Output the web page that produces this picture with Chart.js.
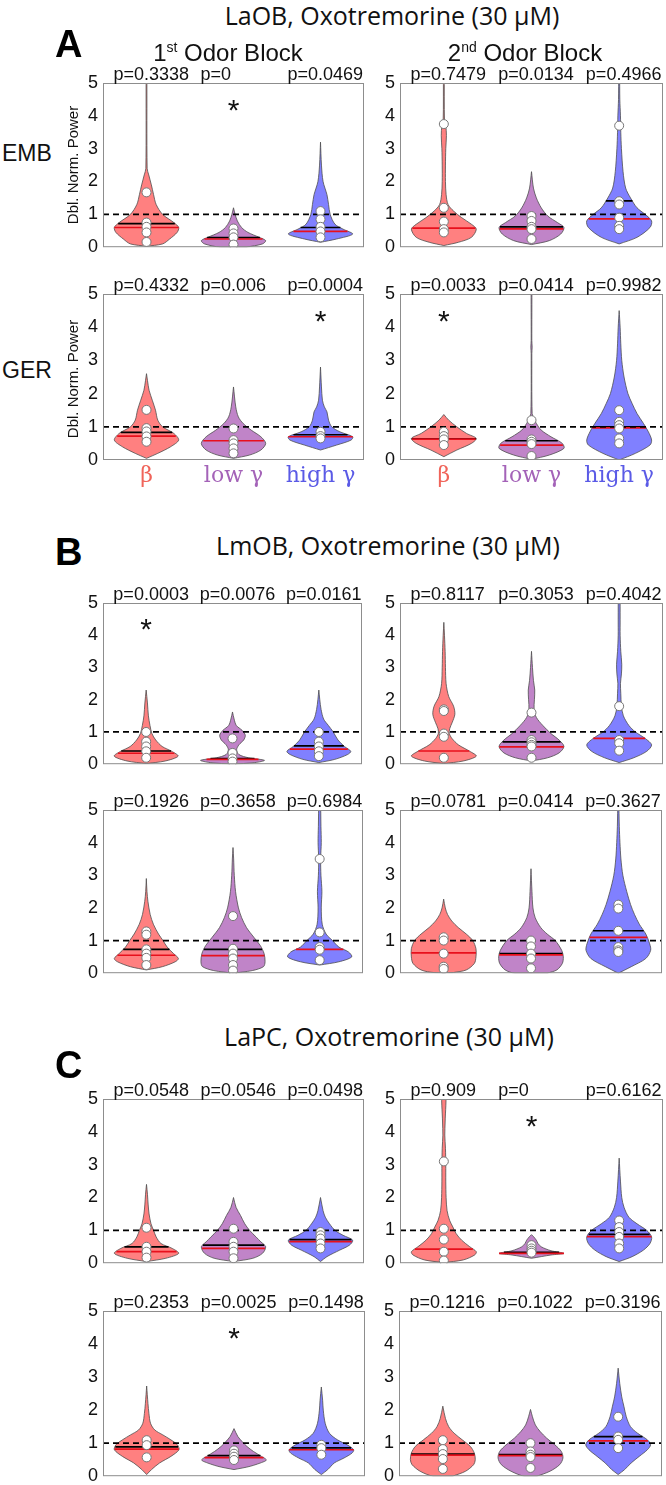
<!DOCTYPE html>
<html>
<head>
<meta charset="utf-8">
<script src="https://cdn.jsdelivr.net/npm/chart.js@4.4.1/dist/chart.umd.min.js"></script>
<style>
  body { margin: 0; background: #fff; }
  #page { position: relative; width: 666px; height: 1485px; overflow: hidden; font-family: "Liberation Sans", Arial, sans-serif; color: #111; }
  #page canvas { position: absolute; }
  .lbl { position: absolute; white-space: nowrap; line-height: 1; }
</style>
</head>
<body>
<div id="page"></div>
<script>
// groups on the x axis of every panel
const groups = ['β', 'low γ', 'high γ'];

// panel order: A-EMB-1st, A-EMB-2nd, A-GER-1st, A-GER-2nd, B top L/R, B bottom L/R, C top L/R, C bottom L/R
const pValues = [
  ['0.3338', '0', '0.0469'], ['0.7479', '0.0134', '0.4966'],
  ['0.4332', '0.006', '0.0004'], ['0.0033', '0.0414', '0.9982'],
  ['0.0003', '0.0076', '0.0161'], ['0.8117', '0.3053', '0.4042'],
  ['0.1926', '0.3658', '0.6984'], ['0.0781', '0.0414', '0.3627'],
  ['0.0548', '0.0546', '0.0498'], ['0.909', '0', '0.6162'],
  ['0.2353', '0.0025', '0.1498'], ['0.1216', '0.1022', '0.3196']
];

// which group carries the significance star (-1 = none)
const starGroup = [1, -1, 2, 0, 0, -1, -1, -1, -1, 1, 1, -1];

// red line (median) and black line (mean) per violin
const medians = [
  [0.6, 0.25, 0.48], [0.58, 0.56, 0.86], [0.72, 0.58, 0.7], [0.63, 0.45, 0.97],
  [0.34, 0.15, 0.47], [0.41, 0.54, 0.8], [0.55, 0.54, 0.73], [0.62, 0.56, 1.1],
  [0.35, 0.45, 0.66], [0.43, 0.3, 0.81], [0.82, 0.56, 0.8], [0.64, 0.62, 1.07]
];
const means = [
  [0.72, 0.29, 0.6], [null, 0.62, 1.41], [0.83, null, 0.76], [0.64, 0.58, 1.0],
  [0.41, 0.17, 0.57], [null, 0.69, null], [0.73, 0.73, null], [null, 0.6, 1.3],
  [0.5, 0.55, 0.72], [null, 0.33, 0.88], [0.89, 0.62, 0.86], [0.67, 0.65, 1.2]
];

// individual animals (white dots)
const dots = [
  [[1.67, 0.75, 0.62, 0.45, 0.16], [0.57, 0.42, 0.3, 0.08], [1.1, 0.85, 0.62, 0.48, 0.3]],
  [[3.75, 1.2, 0.78, 0.55, 0.45], [0.95, 0.8, 0.62, 0.55, 0.25], [3.7, 1.4, 1.3, 0.9, 0.65, 0.55]],
  [[1.51, 0.96, 0.86, 0.71, 0.55], [0.95, 0.6, 0.5, 0.35, 0.2], [0.85, 0.72, 0.65]],
  [[0.85, 0.72, 0.62, 0.45], [1.2, 0.62, 0.55, 0.48, 0.12], [1.5, 1.15, 1.05, 0.95, 0.65, 0.5]],
  [[1.0, 0.7, 0.55, 0.4, 0.2], [0.8, 0.35, 0.18, 0.08], [1.0, 0.7, 0.55, 0.4, 0.25]],
  [[1.7, 1.65, 0.95, 0.85, 0.2], [1.6, 0.75, 0.68, 0.6, 0.55, 0.2], [1.8, 0.75, 0.65, 0.42]],
  [[1.28, 1.18, 0.73, 0.6, 0.47, 0.25], [1.75, 0.75, 0.6, 0.45, 0.25, 0.08], [3.5, 1.25, 0.8, 0.72, 0.4]],
  [[1.1, 1.0, 0.6, 0.2, 0.13], [1.0, 0.82, 0.6, 0.45, 0.15], [2.1, 1.98, 1.3, 0.8, 0.7, 0.65]],
  [[1.08, 0.5, 0.35, 0.17], [1.05, 0.65, 0.5, 0.35, 0.15], [0.95, 0.85, 0.75, 0.6, 0.45]],
  [[3.1, 1.05, 0.72, 0.35, 0.08], [0.55, 0.45, 0.38, 0.32], [1.3, 1.1, 0.95, 0.8, 0.6, 0.45]],
  [[1.09, 0.94, 0.57], [0.78, 0.68, 0.59, 0.49], [0.95, 0.85, 0.65]],
  [[1.09, 0.82, 0.67, 0.52, 0.22], [1.0, 0.75, 0.65, 0.58, 0.25], [1.8, 1.2, 1.1, 0.85]]
];

// violin outlines: [value, relative half-width]
const shapes = [
  [
    [[0.03,0],[0.1,0.5],[0.25,0.72],[0.45,0.95],[0.6,1],[0.75,0.85],[1.0,0.5],[1.3,0.3],[1.6,0.22],[1.9,0.15],[2.2,0.07],[2.4,0.02],[5.3,0.01]],
    [[0.0,0.4],[0.1,0.9],[0.2,1],[0.3,0.8],[0.45,0.45],[0.6,0.25],[0.8,0.12],[1.0,0.05],[1.2,0]],
    [[0.15,0],[0.25,0.5],[0.4,1],[0.55,0.7],[0.7,0.45],[1.0,0.3],[1.3,0.25],[1.6,0.2],[2.0,0.08],[2.5,0.03],[3.2,0]]
  ],
  [
    [[0.05,0],[0.15,0.45],[0.3,0.85],[0.55,1],[0.7,0.85],[0.9,0.55],[1.1,0.3],[1.3,0.13],[1.6,0.07],[2,0.05],[2.5,0.05],[3,0.06],[3.4,0.08],[3.7,0.06],[3.85,0.02],[5.3,0.01]],
    [[0.08,0],[0.2,0.55],[0.4,0.9],[0.6,1],[0.75,0.8],[0.95,0.5],[1.2,0.3],[1.5,0.15],[1.8,0.06],[2.3,0]],
    [[0.1,0],[0.3,0.55],[0.6,0.95],[0.8,1],[1.0,0.8],[1.2,0.55],[1.5,0.35],[1.8,0.2],[2.3,0.12],[3,0.07],[3.5,0.05],[4,0.04],[4.5,0.02],[5.3,0.01]]
  ],
  [
    [[0.05,0],[0.2,0.35],[0.4,0.75],[0.6,1],[0.8,0.85],[1.0,0.5],[1.2,0.35],[1.5,0.28],[1.8,0.18],[2.1,0.08],[2.4,0.03],[2.6,0]],
    [[0.05,0],[0.15,0.5],[0.3,0.85],[0.5,1],[0.7,0.85],[0.9,0.55],[1.1,0.3],[1.3,0.15],[1.6,0.07],[2.2,0]],
    [[0.3,0],[0.45,0.5],[0.6,0.95],[0.7,1],[0.85,0.6],[1.0,0.35],[1.2,0.25],[1.45,0.2],[1.6,0.12],[1.8,0.06],[2.2,0.03],[2.8,0]]
  ],
  [
    [[0.1,0],[0.3,0.4],[0.5,0.85],[0.65,1],[0.8,0.7],[1.0,0.4],[1.2,0.15],[1.37,0]],
    [[0.02,0],[0.15,0.55],[0.35,1],[0.5,0.95],[0.7,0.6],[0.9,0.3],[1.1,0.15],[1.25,0.07],[1.4,0.02],[3.2,0.01],[3.4,0.02],[3.6,0.01],[5.3,0.01]],
    [[0,0],[0.2,0.5],[0.45,0.95],[0.6,1],[0.85,0.9],[1.1,0.75],[1.4,0.55],[1.7,0.4],[2,0.27],[2.5,0.15],[3,0.08],[3.5,0.05],[4,0.03],[4.5,0]]
  ],
  [
    [[0.02,0],[0.1,0.6],[0.25,1],[0.4,0.8],[0.55,0.5],[0.75,0.3],[0.95,0.18],[1.2,0.12],[1.5,0.07],[1.9,0.04],[2.3,0]],
    [[0,0],[0.05,0.7],[0.12,1],[0.2,0.5],[0.3,0.2],[0.45,0.13],[0.6,0.2],[0.75,0.35],[0.9,0.4],[1.05,0.3],[1.2,0.12],[1.4,0.05],[1.62,0]],
    [[0.05,0],[0.15,0.5],[0.3,0.9],[0.4,1],[0.55,0.8],[0.75,0.6],[1.0,0.45],[1.2,0.3],[1.4,0.15],[1.7,0.07],[2.0,0.03],[2.3,0]]
  ],
  [
    [[0.02,0],[0.1,0.6],[0.25,1],[0.4,0.8],[0.6,0.45],[0.8,0.25],[0.95,0.17],[1.1,0.18],[1.3,0.26],[1.55,0.34],[1.8,0.3],[2.1,0.15],[2.5,0.07],[3,0.05],[3.5,0.04],[4,0.02],[4.4,0]],
    [[0.1,0],[0.2,0.5],[0.35,0.85],[0.55,1],[0.75,0.85],[0.95,0.6],[1.2,0.35],[1.45,0.15],[1.7,0.08],[2,0.09],[2.3,0.1],[2.6,0.06],[3,0.03],[3.5,0]],
    [[0.05,0],[0.2,0.45],[0.4,0.85],[0.6,1],[0.8,0.8],[1.0,0.5],[1.2,0.3],[1.5,0.13],[1.8,0.07],[2.2,0.05],[2.5,0.04],[2.8,0.07],[3.1,0.08],[3.5,0.05],[4,0.03],[4.5,0.03],[5.3,0.02]]
  ],
  [
    [[0.1,0],[0.2,0.5],[0.35,0.9],[0.45,1],[0.6,0.85],[0.8,0.65],[1.0,0.52],[1.2,0.38],[1.5,0.22],[1.8,0.12],[2.2,0.05],[2.5,0.02],[2.9,0]],
    [[0,0],[0.08,0.6],[0.2,0.95],[0.35,1],[0.6,0.97],[0.85,0.85],[1.1,0.65],[1.4,0.42],[1.7,0.27],[2,0.17],[2.5,0.08],[3,0.04],[3.5,0.02],[3.85,0]],
    [[0.25,0],[0.35,0.6],[0.5,1],[0.65,0.9],[0.8,0.6],[1.0,0.4],[1.2,0.2],[1.5,0.08],[2,0.05],[2.5,0.07],[3,0.04],[3.5,0.03],[4,0.05],[4.5,0.04],[5.3,0.02]]
  ],
  [
    [[0.02,0.3],[0.1,0.7],[0.3,0.95],[0.5,1],[0.75,1],[1.0,0.9],[1.2,0.7],[1.4,0.45],[1.6,0.25],[1.8,0.12],[2.0,0.05],[2.27,0]],
    [[0,0.5],[0.1,0.8],[0.3,0.97],[0.5,1],[0.7,0.95],[1.0,0.75],[1.2,0.5],[1.4,0.3],[1.7,0.13],[2,0.06],[2.5,0.03],[3.2,0]],
    [[0,0],[0.2,0.4],[0.45,0.85],[0.7,1],[0.9,0.97],[1.2,0.85],[1.5,0.65],[1.8,0.5],[2.1,0.38],[2.5,0.26],[3,0.14],[3.5,0.08],[4,0.05],[4.5,0.03],[5.3,0.01]]
  ],
  [
    [[0.05,0],[0.15,0.6],[0.3,1],[0.45,0.8],[0.6,0.45],[0.8,0.3],[1.0,0.22],[1.2,0.14],[1.5,0.08],[1.8,0.05],[2.1,0.03],[2.4,0]],
    [[0.05,0],[0.15,0.6],[0.3,0.9],[0.5,1],[0.65,0.85],[0.8,0.7],[1.0,0.5],[1.2,0.35],[1.45,0.22],[1.7,0.08],[2.0,0]],
    [[0.05,0],[0.2,0.2],[0.4,0.6],[0.55,0.9],[0.7,1],[0.85,0.7],[1.0,0.45],[1.2,0.28],[1.4,0.15],[1.6,0.08],[2,0]]
  ],
  [
    [[0.02,0],[0.1,0.6],[0.25,0.95],[0.35,1],[0.5,0.8],[0.7,0.55],[0.9,0.38],[1.1,0.28],[1.3,0.18],[1.6,0.1],[2,0.07],[2.5,0.06],[3,0.06],[3.5,0.05],[3.9,0.03],[4.3,0.04],[5.3,0.06]],
    [[0.15,0],[0.25,0.6],[0.3,1],[0.38,0.6],[0.5,0.3],[0.6,0.2],[0.7,0.15],[0.8,0.07],[0.87,0]],
    [[0.05,0],[0.2,0.4],[0.4,0.75],[0.6,0.95],[0.8,1],[1.0,0.85],[1.2,0.55],[1.4,0.3],[1.7,0.15],[2,0.08],[2.5,0.04],[3.2,0]]
  ],
  [
    [[0.05,0],[0.2,0.15],[0.4,0.4],[0.6,0.75],[0.8,1],[0.95,0.95],[1.1,0.75],[1.25,0.5],[1.4,0.25],[1.6,0.12],[1.9,0.07],[2.2,0.04],[2.73,0]],
    [[0.2,0],[0.3,0.5],[0.45,0.95],[0.5,1],[0.6,0.85],[0.75,0.6],[0.9,0.4],[1.05,0.25],[1.2,0.12],[1.44,0]],
    [[0.05,0],[0.2,0.2],[0.4,0.4],[0.55,0.7],[0.7,0.95],[0.8,1],[0.95,0.8],[1.1,0.5],[1.3,0.25],[1.6,0.12],[2,0.06],[2.3,0.04],[2.7,0]]
  ],
  [
    [[0,0.3],[0.15,0.7],[0.35,0.95],[0.5,1],[0.7,0.97],[0.9,0.85],[1.1,0.6],[1.3,0.35],[1.5,0.18],[1.75,0.08],[2.12,0]],
    [[0,0.2],[0.15,0.6],[0.35,0.9],[0.55,1],[0.75,0.95],[0.95,0.75],[1.15,0.5],[1.35,0.3],[1.55,0.15],[1.8,0.06],[2.02,0]],
    [[0.05,0],[0.2,0.2],[0.4,0.4],[0.6,0.65],[0.8,0.9],[0.95,1],[1.1,0.9],[1.3,0.6],[1.5,0.38],[1.8,0.25],[2.1,0.18],[2.4,0.11],[2.8,0.05],[3.27,0]]
  ]
];

// ---- layout / style (not data) ----
const fills = ['#ff8080', '#c084c8', '#8080ff'];
const catColors = ['#f0645a', '#a463b8', '#5a5ae6'];
const MAXW = 0.37;          // widest violin half-width in category units
const PAD_L = 48, PAD_T = 24, PAD_R = 6, PAD_B = 14;
// plot boxes [left, top, width, height] in page pixels
const boxes = [
  [103, 83, 261, 166], [400, 83, 263, 166],
  [103, 294, 261, 166], [400, 294, 263, 166],
  [103, 603, 259, 163], [400, 603, 263, 163],
  [103, 810, 260, 165], [400, 810, 262, 165],
  [103, 1099, 261, 166], [400, 1099, 263, 166],
  [103, 1311, 262, 167], [399, 1311, 263, 167]
];

const page = document.getElementById('page');

function label(html, x, y, css, anchor) {
  const d = document.createElement('div');
  d.className = 'lbl';
  d.innerHTML = html;
  d.style.cssText += css;
  d.style.left = x + 'px';
  d.style.top = y + 'px';
  d.style.transform = anchor === 'l' ? 'translate(0,-50%)'
    : anchor === 'r90' ? 'translate(-50%,-50%) rotate(-90deg)' : 'translate(-50%,-50%)';
  page.appendChild(d);
}

function widthAt(profile, v) {
  for (let j = 1; j < profile.length; j++) {
    const [y0, w0] = profile[j - 1], [y1, w1] = profile[j];
    if (v >= y0 && v <= y1) return w0 + (w1 - w0) * (v - y0) / (y1 - y0);
  }
  return 0;
}

const panelDecor = {
  id: 'panelDecor',
  afterDatasetsDraw(chart, args, opts) {
    const { ctx, chartArea: a, scales: { x, y } } = chart;
    ctx.save();
    ctx.strokeStyle = '#8d8d8d';
    ctx.lineWidth = 1;
    ctx.strokeRect(a.left + 0.5, a.top + 0.5, a.right - a.left - 1, a.bottom - a.top - 1);

    ctx.fillStyle = '#111';
    ctx.font = '18px "Liberation Sans", Arial, sans-serif';
    ctx.textAlign = 'left';
    ctx.textBaseline = 'alphabetic';
    opts.p.forEach((t, k) => ctx.fillText('p=' + t, x.getPixelForValue(k + 1 - 0.38), a.top - 3));

    if (opts.star >= 0) {
      ctx.font = '30px "Liberation Sans", Arial, sans-serif';
      ctx.textAlign = 'center';
      ctx.fillText('*', x.getPixelForValue(opts.star + 1), y.getPixelForValue(4.4) + 17);
    }
    if (opts.cats) {
      ctx.font = '22px "DejaVu Serif", "Liberation Serif", serif';
      ctx.textAlign = 'center';
      ctx.textBaseline = 'alphabetic';
      groups.forEach((g, k) => {
        ctx.fillStyle = catColors[k];
        ctx.fillText(g, x.getPixelForValue(k + 1), a.bottom + 22);
      });
    }
    ctx.restore();
  }
};

function buildPanel(i) {
  const [bx, by, bw, bh] = boxes[i];
  const cats = i === 2 || i === 3;
  const padB = cats ? 44 : PAD_B;
  const cv = document.createElement('canvas');
  cv.width = bw + PAD_L + PAD_R;
  cv.height = bh + PAD_T + padB;
  cv.style.left = (bx - PAD_L) + 'px';
  cv.style.top = (by - PAD_T) + 'px';
  page.appendChild(cv);

  const datasets = [{
    data: [{ x: 0.5, y: 1 }, { x: 3.5, y: 1 }],
    showLine: true, borderColor: '#000', borderWidth: 1.7, borderDash: [6, 4],
    pointRadius: 0, order: 1
  }];

  shapes[i].forEach((prof, k) => {
    const c = k + 1;
    const right = prof.map(([v, w]) => ({ x: c + w * MAXW, y: v }));
    const left = prof.slice().reverse().map(([v, w]) => ({ x: c - w * MAXW, y: v }));
    const poly = right.concat(left);
    poly.push(right[0]);
    datasets.push({
      data: poly, showLine: true, fill: 'shape', tension: 0.3,
      backgroundColor: fills[k], borderColor: '#4e4e4e', borderWidth: 0.8,
      pointRadius: 0, order: 3
    });

    const stat = (v, color) => {
      if (v == null) return;
      const hw = widthAt(prof, v) * MAXW;
      datasets.push({
        data: [{ x: c - hw, y: v }, { x: c + hw, y: v }],
        showLine: true, borderColor: color, borderWidth: 1.7, pointRadius: 0, order: 2
      });
    };
    stat(medians[i][k], '#e8101c');
    stat(means[i][k], '#000');

    datasets.push({
      data: dots[i][k].map(v => ({ x: c, y: v })),
      showLine: false, pointRadius: 4.5, pointBackgroundColor: '#fff',
      pointBorderColor: '#777', pointBorderWidth: 1, order: 0
    });
  });

  new Chart(cv, {
    type: 'scatter',
    data: { datasets },
    options: {
      responsive: false,
      animation: false,
      events: [],
      layout: { padding: { left: 0, top: PAD_T, right: PAD_R, bottom: padB } },
      scales: {
        x: { type: 'linear', min: 0.5, max: 3.5, display: false },
        y: {
          min: 0, max: 5,
          ticks: { stepSize: 1, color: '#111', padding: 5, font: { size: 18, family: '"Liberation Sans", Arial, sans-serif' } },
          grid: { display: false, drawTicks: false },
          border: { display: false },
          afterFit(s) { s.width = PAD_L; }
        }
      },
      plugins: {
        legend: { display: false },
        tooltip: { enabled: false },
        panelDecor: { p: pValues[i], star: starGroup[i], cats }
      }
    },
    plugins: [panelDecor]
  });
}

boxes.forEach((b, i) => buildPanel(i));

// titles and panel letters
const titleCss = 'font-family:"Open Sans",sans-serif;font-size:25px;color:#111;';
const letterCss = 'font-family:"Liberation Sans",Arial,sans-serif;font-weight:bold;font-size:38px;color:#000;';
const headCss = 'font-family:"Liberation Sans",Arial,sans-serif;font-size:24px;color:#111;';
const rowCss = 'font-family:"Liberation Sans",Arial,sans-serif;font-size:23px;color:#111;';
const yTitleCss = 'font-family:"Liberation Sans",Arial,sans-serif;font-size:15px;color:#111;';

label('LaOB, Oxotremorine (30 μM)', 392, 15, titleCss);
label('LmOB, Oxotremorine (30 μM)', 388, 545, titleCss);
label('LaPC, Oxotremorine (30 μM)', 389, 1036, titleCss);
label('A', 55, 44, letterCss, 'l');
label('B', 55, 552, letterCss, 'l');
label('C', 55, 1065, letterCss, 'l');
label('1<sup style="font-size:14px">st</sup> Odor Block', 228, 52, headCss);
label('2<sup style="font-size:14px">nd</sup> Odor Block', 525, 52, headCss);
label('EMB', 2, 153, rowCss, 'l');
label('GER', 2, 370, rowCss, 'l');
label('Dbl. Norm. Power', 72, 165, yTitleCss, 'r90');
label('Dbl. Norm. Power', 72, 379, yTitleCss, 'r90');
</script>
</body>
</html>
